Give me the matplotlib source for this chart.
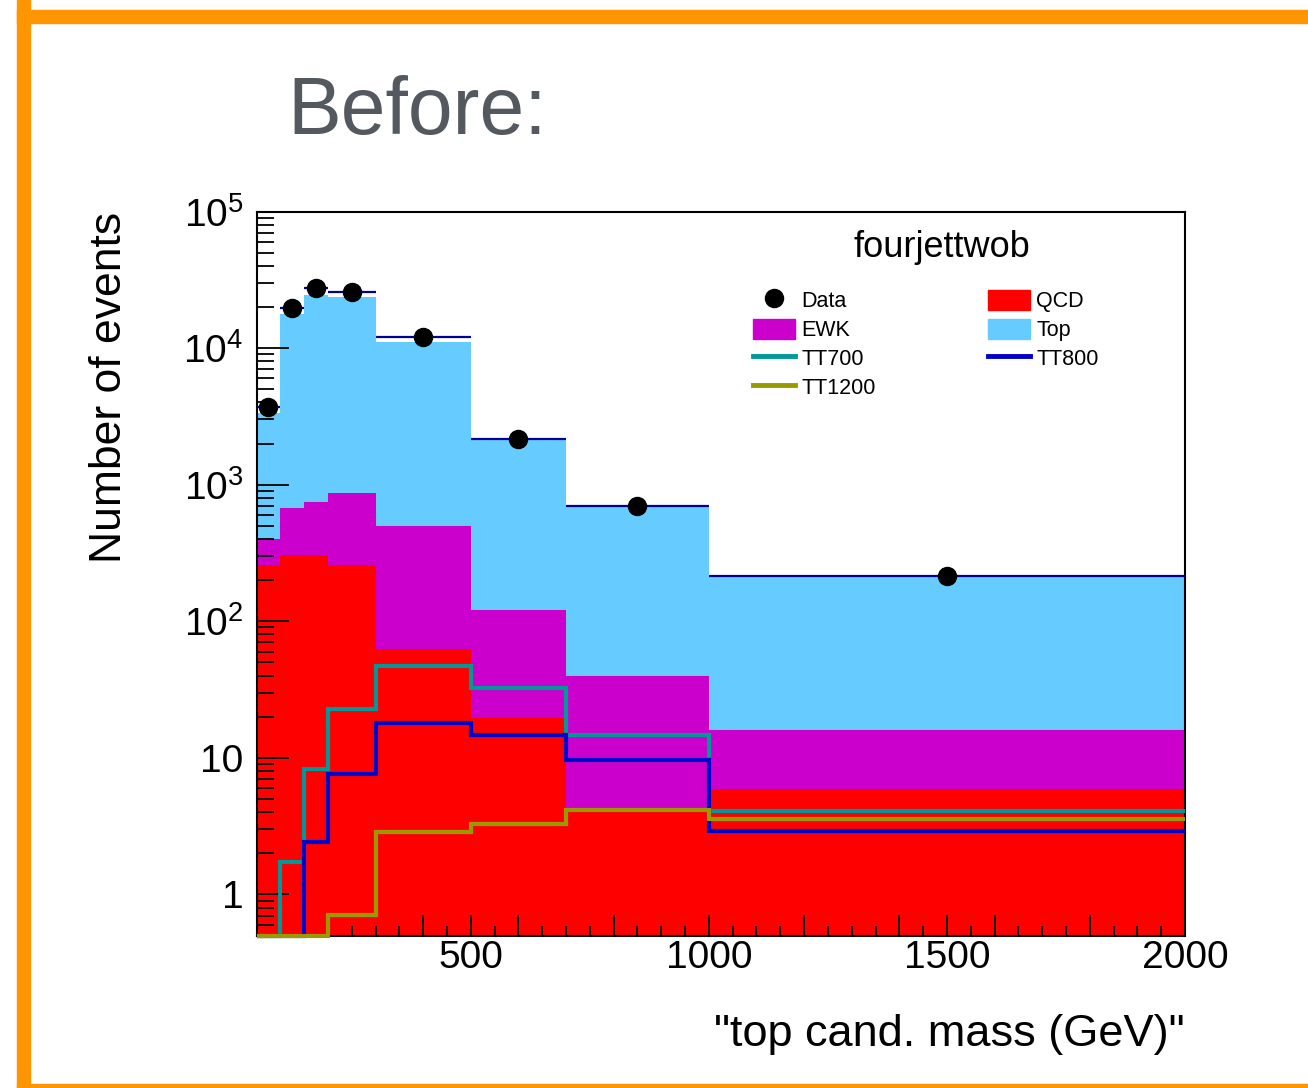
import numpy as np
import matplotlib
matplotlib.use('Agg')
import matplotlib.pyplot as plt
from matplotlib.ticker import FixedLocator, FuncFormatter, LogLocator, MultipleLocator, NullFormatter
from matplotlib.lines import Line2D
from matplotlib.patches import Patch, Rectangle

plt.rcParams['font.family'] = ['Liberation Sans', 'DejaVu Sans']
plt.rcParams['mathtext.fontset'] = 'custom'
plt.rcParams['mathtext.rm'] = 'Liberation Sans'

# 分箱邊界 (GeV)
edges = [50, 100, 150, 200, 300, 500, 700, 1000, 2000]

# 背景 (堆疊)
qcd = [258, 306, 306, 258, 63, 19.5, 4.0, 5.9]
ewk = [142, 372, 444, 604, 438, 101.5, 36, 10]
top = [2970, 17160, 23570, 22760, 10590, 2020, 650, 196]

# 資料
data = [3730, 19540, 27620, 25840, 12050, 2155, 693, 213]

# 訊號
tt700 = [0, 1.73, 8.34, 22.6, 46.9, 32.6, 14.6, 4.08]
tt800 = [0, 0, 2.42, 7.57, 17.9, 14.8, 9.7, 2.90]
tt1200 = [0, 0, 0, 0.706, 2.87, 3.30, 4.18, 3.59]

W, H = 1308, 1088
fig = plt.figure(figsize=(W / 100, H / 100), dpi=100)

# 橘色外框
orange = '#ff9500'
fig.patches.append(Rectangle((17 / W, 0), 13 / W, 1, color=orange, transform=fig.transFigure))
fig.patches.append(Rectangle((17 / W, 1 - 23 / H), 1, 13 / H, color=orange, transform=fig.transFigure))
fig.patches.append(Rectangle((17 / W, 0), 1, 4 / H, color=orange, transform=fig.transFigure))

fig.text(287 / W, 1 - 134 / H, 'Before:', fontsize=58, color='#54595f', va='baseline', ha='left')

ax = fig.add_axes([256.5 / W, 1 - 935.5 / H, 928.5 / W, 724 / H])
ax.set_yscale('log')
ymin, ymax = 0.5, 1e5

edges = np.array(edges, dtype=float)
cum_ewk = np.array(qcd) + np.array(ewk)
cum_top = cum_ewk + np.array(top)

ax.stairs(cum_top, edges, fill=True, color='#66ccff', lw=0, baseline=0)
ax.stairs(cum_ewk, edges, fill=True, color='#cc00cc', lw=0, baseline=0)
ax.stairs(qcd, edges, fill=True, color='#ff0000', lw=0, baseline=0)

sig_colors = {'TT700': '#009999', 'TT800': '#0000cc', 'TT1200': '#999900'}
for name, vals in [('TT700', tt700), ('TT800', tt800), ('TT1200', tt1200)]:
    ax.stairs(np.maximum(vals, ymin), edges, color=sig_colors[name], lw=3, baseline=None,
              clip_on=False, zorder=3)

centers = (edges[:-1] + edges[1:]) / 2
half = (edges[1:] - edges[:-1]) / 2
ax.errorbar(centers, data, xerr=half, yerr=np.sqrt(data), fmt='o', color='black', ms=13,
            ecolor='#000099', elinewidth=1.6, capsize=0, zorder=5)

ax.set_xlim(50, 2000)
ax.set_ylim(ymin, ymax)

# 座標軸樣式
for s in ax.spines.values():
    s.set_linewidth(1.5)
ax.xaxis.set_major_locator(FixedLocator([200, 400, 500, 600, 800, 1000, 1200, 1400, 1500, 1600, 1800, 2000]))
ax.xaxis.set_major_formatter(FuncFormatter(lambda v, p: f'{int(v)}' if v % 500 == 0 else ''))
ax.xaxis.set_minor_locator(MultipleLocator(50))
ax.yaxis.set_major_locator(LogLocator(base=10, numticks=20))
ax.yaxis.set_minor_locator(LogLocator(base=10, subs=np.arange(2, 10), numticks=20))
ax.yaxis.set_minor_formatter(NullFormatter())

def ylab(v, p):
    e = int(round(np.log10(v)))
    if e == 0:
        return '1'
    if e == 1:
        return '10'
    return f'$10^{{{e}}}$'

ax.yaxis.set_major_formatter(FuncFormatter(ylab))
ax.tick_params(axis='both', which='both', direction='in', top=False, right=False, width=1.3)
ax.tick_params(axis='x', which='major', length=15, pad=3, labelsize=28)
ax.tick_params(axis='x', which='minor', length=7.5)
ax.tick_params(axis='y', which='major', length=23, pad=9.5, labelsize=28)
ax.tick_params(axis='y', which='minor', length=12)

ax.set_xlabel('"top cand. mass (GeV)"', fontsize=32.5, loc='right')
ax.xaxis.set_label_coords(1.0, -0.108)
ax.set_ylabel('Number of events', fontsize=32, loc='top')
ax.yaxis.set_label_coords(-0.136, 1.0)

ax.text(0.738, 0.937, 'fourjettwob', transform=ax.transAxes, fontsize=26, ha='center', va='baseline')

handles = [
    Line2D([], [], marker='o', color='black', ms=13, ls='none'),
    Patch(color='#cc00cc'),
    Line2D([], [], color='#009999', lw=3.5),
    Line2D([], [], color='#999900', lw=3.5),
    Patch(color='#ff0000'),
    Patch(color='#66ccff'),
    Line2D([], [], color='#0000cc', lw=3.5),
]
labels = ['Data', 'EWK', 'TT700', 'TT1200', 'QCD', 'Top', 'TT800']
ax.legend(handles, labels, ncol=2, loc='upper left', bbox_to_anchor=(0.5347, 0.892),
          frameon=False, fontsize=15.5, borderpad=0, borderaxespad=0, handlelength=1.95,
          handleheight=1.05, handletextpad=0.3, labelspacing=0.31, columnspacing=5.2)

fig.savefig('out.png', dpi=100)
